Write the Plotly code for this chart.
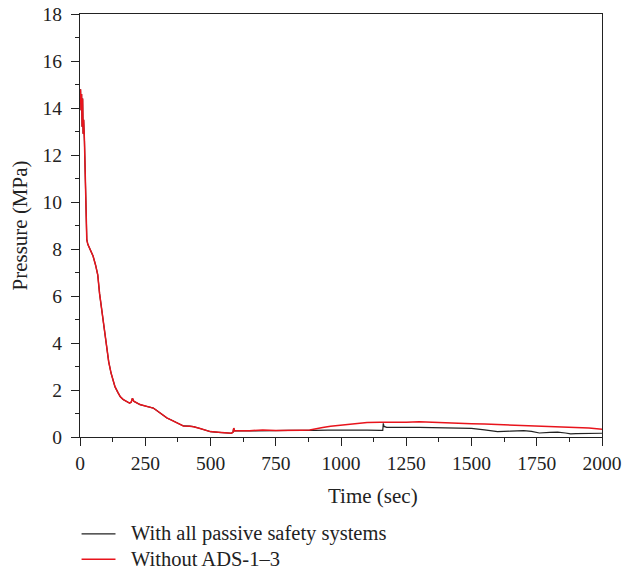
import plotly.graph_objects as go

# Shared depressurisation transient (both cases coincide up to ~590 s)
t_early = [0, 2, 4, 6, 8, 10, 12, 14, 17, 20, 23, 26, 30, 40, 50, 60, 68, 75, 82, 90,
           102, 110, 119, 127, 134, 145, 154, 165, 178, 190, 196, 201, 206, 215, 230,
           250, 270, 281, 290, 300, 315, 333, 350, 370, 396, 420, 435, 460, 480, 499,
           530, 563, 580, 586, 589, 592, 600]
p_early = [14.2, 14.8, 13.9, 14.6, 13.2, 14.4, 12.9, 13.5, 12.6, 11.0, 9.8, 8.4, 8.2, 7.95,
           7.7, 7.3, 6.9, 6.1, 5.5, 4.85, 3.7, 3.2, 2.72, 2.4, 2.14, 1.9, 1.72, 1.6, 1.52,
           1.44, 1.48, 1.65, 1.52, 1.47, 1.38, 1.32, 1.27, 1.23, 1.16, 1.08, 0.95, 0.81,
           0.72, 0.6, 0.47, 0.46, 0.44, 0.36, 0.3, 0.23, 0.2, 0.17, 0.16, 0.2, 0.38, 0.26,
           0.27]

# Case 1: with all passive safety systems
t_passive = t_early + [650, 700, 750, 800, 850, 880, 900, 950, 1000, 1050, 1100, 1150, 1160,
                       1162, 1165, 1175, 1200, 1250, 1300, 1350, 1400, 1450, 1500, 1550,
                       1600, 1650, 1700, 1730, 1760, 1800, 1830, 1860, 1880, 1900, 1950, 2000]
p_passive = p_early + [0.26, 0.28, 0.27, 0.28, 0.27, 0.27, 0.28, 0.29, 0.3, 0.3, 0.29, 0.28,
                       0.28, 0.58, 0.45, 0.41, 0.42, 0.41, 0.41, 0.4, 0.4, 0.39, 0.37, 0.3,
                       0.23, 0.25, 0.27, 0.24, 0.17, 0.2, 0.21, 0.17, 0.13, 0.14, 0.15, 0.16]

# Case 2: without ADS-1-3
t_no_ads = t_early + [650, 700, 750, 800, 850, 880, 900, 930, 960, 1000, 1050, 1100, 1150,
                      1200, 1250, 1300, 1350, 1400, 1450, 1500, 1550, 1600, 1650, 1700,
                      1750, 1800, 1850, 1900, 1950, 2000]
p_no_ads = p_early + [0.27, 0.3, 0.28, 0.3, 0.29, 0.3, 0.33, 0.4, 0.46, 0.51, 0.56, 0.62,
                      0.63, 0.62, 0.63, 0.65, 0.62, 0.6, 0.58, 0.56, 0.55, 0.53, 0.5, 0.49,
                      0.47, 0.45, 0.42, 0.4, 0.38, 0.33]

series_names = ["With all passive safety systems", "Without ADS-1\u20133"]
series_colors = ["#222222", "#e8141c"]
series_widths = [1.2, 1.5]

x_ticks = [0, 250, 500, 750, 1000, 1250, 1500, 1750, 2000]
y_ticks = [0, 2, 4, 6, 8, 10, 12, 14, 16, 18]

FONT = "Liberation Serif"
INK = "#222222"

fig = go.Figure()
for xs, ys, name, color, width in zip([t_passive, t_no_ads], [p_passive, p_no_ads],
                                      series_names, series_colors, series_widths):
    fig.add_trace(go.Scatter(x=xs, y=ys, mode="lines", name=name,
                             line=dict(color=color, width=width)))

axis_common = dict(
    showgrid=False, zeroline=False, showline=True, linecolor=INK, linewidth=1.2,
    mirror=True, ticks="outside", ticklen=8, tickwidth=1.2, tickcolor=INK,
    tickfont=dict(family=FONT, size=19.5, color=INK), automargin=False,
)

fig.update_xaxes(range=[0, 2000], tickvals=x_ticks,
                 minor=dict(dtick=125, tick0=0, ticks="outside", ticklen=4, tickcolor=INK,
                            tickwidth=1.2),
                 **axis_common)
fig.update_yaxes(range=[0, 18], tickvals=y_ticks, ticklabelstandoff=5,
                 title=dict(text="Pressure (MPa)", font=dict(family=FONT, size=21, color=INK),
                            standoff=9),
                 minor=dict(dtick=1, tick0=0, ticks="outside", ticklen=4, tickcolor=INK,
                            tickwidth=1.2),
                 **axis_common)

# x-axis caption, set slightly right of the axis centre
fig.add_annotation(xref="paper", yref="paper", x=0.562, y=-0.1395, text="Time (sec)",
                   showarrow=False, xanchor="center", yanchor="middle",
                   font=dict(family=FONT, size=21, color=INK))

# Key drawn below the axes: sample line plus label for each series
legend_rows = [-0.229, -0.289]
for row_y, name, color, width in zip(legend_rows, series_names, series_colors, series_widths):
    fig.add_shape(type="line", xref="paper", yref="paper", x0=0.003, x1=0.068,
                  y0=row_y, y1=row_y, line=dict(color=color, width=width))
    fig.add_annotation(xref="paper", yref="paper", x=0.094, y=row_y, text=name,
                       showarrow=False, xanchor="left", yanchor="middle",
                       font=dict(family=FONT, size=20.5, color=INK))

fig.update_layout(
    width=636, height=573,
    margin=dict(l=80, r=34, t=14, b=136),
    paper_bgcolor="white", plot_bgcolor="white",
    showlegend=False,
)

fig.write_html("out.html")
